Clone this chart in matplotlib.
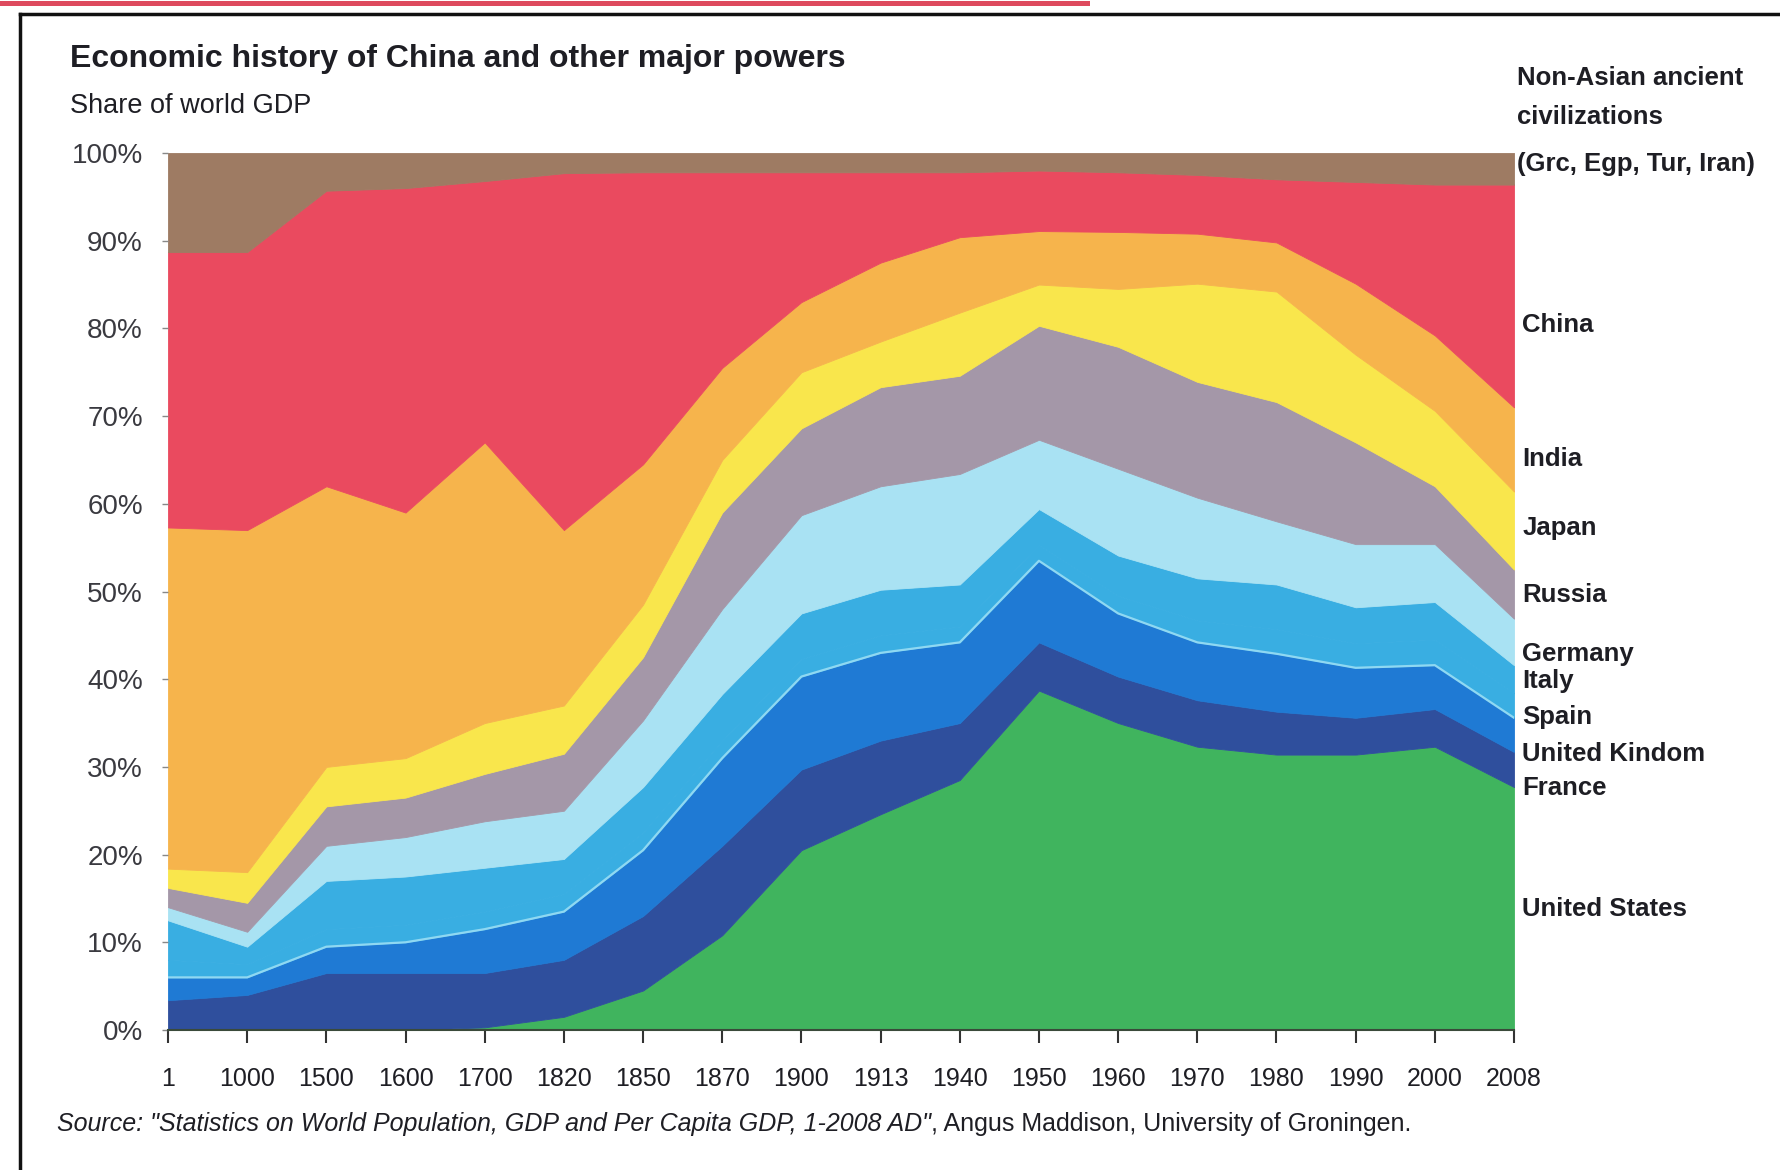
import numpy as np
import matplotlib
matplotlib.use("Agg")
import matplotlib.pyplot as plt
from matplotlib import font_manager as fm
from matplotlib.patches import Rectangle
from matplotlib.lines import Line2D
import matplotlib.transforms as mtransforms

# ---------------- data (share of world GDP, %) ----------------
years = ['1', '1000', '1500', '1600', '1700', '1820', '1850', '1870', '1900',
         '1913', '1940', '1950', '1960', '1970', '1980', '1990', '2000', '2008']

united_states = [0.0, 0.0, 0.0, 0.0, 0.3, 1.5, 4.5, 10.8, 20.5, 24.6, 28.5, 38.7, 35.0, 32.3, 31.4, 31.4, 32.3, 27.7]
france        = [3.4, 4.0, 6.5, 6.5, 6.2, 6.5, 8.5, 10.2, 9.2, 8.4, 6.5, 5.5, 5.3, 5.3, 4.9, 4.2, 4.3, 4.0]
united_kingdom = [2.6, 2.0, 3.0, 3.5, 5.0, 5.5, 7.5, 10.0, 10.6, 10.0, 9.2, 9.3, 7.2, 6.6, 6.6, 5.7, 5.0, 3.9]
spain         = [2.0, 1.5, 2.0, 2.0, 2.0, 2.0, 2.0, 2.0, 2.0, 2.0, 1.8, 1.8, 2.0, 2.5, 2.8, 2.8, 2.9, 2.8]
italy         = [4.5, 2.0, 5.5, 5.5, 5.0, 4.0, 5.2, 5.3, 5.2, 5.2, 4.8, 4.1, 4.6, 4.8, 5.1, 4.1, 4.3, 3.2]
germany       = [1.5, 1.7, 4.0, 4.5, 5.3, 5.5, 7.6, 9.7, 11.2, 11.8, 12.6, 7.9, 9.9, 9.2, 7.2, 7.2, 6.6, 5.3]
russia        = [2.2, 3.3, 4.5, 4.5, 5.4, 6.5, 7.2, 11.0, 9.9, 11.3, 11.2, 13.0, 13.9, 13.2, 13.6, 11.6, 6.6, 5.6]
japan         = [2.2, 3.5, 4.5, 4.5, 5.8, 5.5, 6.0, 6.0, 6.4, 5.2, 7.2, 4.7, 6.6, 11.2, 12.6, 10.0, 8.6, 8.9]
india         = [38.9, 39.0, 32.0, 28.0, 32.0, 20.0, 16.0, 10.5, 8.0, 9.0, 8.6, 6.1, 6.5, 5.7, 5.6, 8.1, 8.6, 9.6]
china         = [31.4, 31.7, 33.7, 37.0, 29.8, 40.7, 33.3, 22.3, 14.8, 10.3, 7.4, 6.9, 6.8, 6.7, 7.2, 11.6, 17.2, 25.4]
non_asian     = [11.3, 11.3, 4.3, 4.0, 3.2, 2.3, 2.2, 2.2, 2.2, 2.2, 2.2, 2.0, 2.2, 2.5, 3.0, 3.3, 3.6, 3.6]

series_names = ['United States', 'France', 'United Kindom', 'Spain', 'Italy', 'Germany',
                'Russia', 'Japan', 'India', 'China']
series = [united_states, france, united_kingdom, spain, italy, germany,
          russia, japan, india, china, non_asian]
colors = ['#40b45e', '#2f4f9d', '#1f7ad4', '#39aee2', '#39aee2', '#a9e2f3',
          '#a497a8', '#f9e64c', '#f6b44c', '#ea4a5f', '#9e7b63']
non_asian_lines = ['Non-Asian ancient', 'civilizations', '(Grc, Egp, Tur, Iran)']

y_ticks = [0, 10, 20, 30, 40, 50, 60, 70, 80, 90, 100]
y_tick_labels = [f'{v}%' for v in y_ticks]

# ---------------- fonts ----------------
names = {f.name for f in fm.fontManager.ttflist}
if 'Liberation Sans Narrow' in names:
    FAM = ['Liberation Sans Narrow', 'DejaVu Sans']
    SCALE = 1.15
else:
    FAM = ['Liberation Sans', 'DejaVu Sans']
    SCALE = 1.0
plt.rcParams['font.family'] = FAM

TXT = '#1e1e24'

# ---------------- figure ----------------
W, H = 1781, 1170
fig = plt.figure(figsize=(W / 100, H / 100), dpi=100)
fig.patch.set_facecolor('white')

left, right = 168 / W, 1514 / W
bottom, top = (H - 1030) / H, (H - 153) / H
ax = fig.add_axes([left, bottom, right - left, top - bottom])

x = np.arange(len(years))
polys = ax.stackplot(x, *series, colors=colors)
for p, c in zip(polys, colors):
    p.set_edgecolor(c)
    p.set_linewidth(0.6)

# thin light separator on top of the UK band
cum = np.cumsum(np.array(series), axis=0)
ax.plot(x, cum[2], color='#8fd8f2', lw=1.6)

ax.set_xlim(0, len(years) - 1)
ax.set_ylim(0, 100)

ax.set_xticks(x)
ax.set_xticklabels(years, fontsize=18 * SCALE, color=TXT)
ax.set_yticks(y_ticks)
ax.set_yticklabels(y_tick_labels, fontsize=20 * SCALE, color='#3a3a40')

ax.tick_params(axis='x', direction='out', length=9, width=1.5, color='#333333', pad=18)
ax.tick_params(axis='y', direction='out', length=4, width=1.0, color='#888888', pad=14)

for s in ['top', 'right', 'left']:
    ax.spines[s].set_visible(False)
ax.spines['bottom'].set_color('#3a4a3a')
ax.spines['bottom'].set_linewidth(1.5)

# right-hand labels
label_y = [13.8, 27.6, 31.5, 35.7, 39.8, 42.9, 49.6, 57.2, 65.1, 80.4]
trans = mtransforms.blended_transform_factory(ax.transAxes, ax.transData)
for name, yy in zip(series_names, label_y):
    ax.text(1.006, yy, name, transform=trans, ha='left', va='center',
            fontsize=18.5 * SCALE, fontweight='bold', color=TXT, clip_on=False)
for line, yy in zip(non_asian_lines, [108.5, 104.1, 98.8]):
    ax.text(1.002, yy, line, transform=trans, ha='left', va='center',
            fontsize=18.5 * SCALE, fontweight='bold', color=TXT, clip_on=False)

# titles
fig.text(70 / W, 1 - 59 / H, 'Economic history of China and other major powers',
         fontsize=23 * SCALE, fontweight='bold', color=TXT, ha='left', va='center')
fig.text(70 / W, 1 - 106 / H, 'Share of world GDP',
         fontsize=19.5 * SCALE, color=TXT, ha='left', va='center')

# source
src_y = 1 - 1124 / H
t1 = fig.text(57 / W, src_y,
              'Source: "Statistics on World Population, GDP and Per Capita GDP, 1-2008 AD"',
              fontsize=18 * SCALE, style='italic', color=TXT, ha='left', va='center')
fig.canvas.draw()
bb = t1.get_window_extent()
fig.text(bb.x1 / W, src_y, ', Angus Maddison, University of Groningen.',
         fontsize=18 * SCALE, color=TXT, ha='left', va='center')

# frame and top red strip of the scanned page
fig.add_artist(Line2D([20 / W, 20 / W], [0, 1 - 14 / H], transform=fig.transFigure,
                      color='#111111', lw=2.5))
fig.add_artist(Line2D([20 / W, 1], [1 - 14 / H, 1 - 14 / H], transform=fig.transFigure,
                      color='#111111', lw=2.5))
fig.add_artist(Rectangle((0, 1 - 6 / H), 1090 / W, 5 / H, transform=fig.transFigure,
                         facecolor='#de4a5e', edgecolor='none'))

fig.savefig('out.png', dpi=100, facecolor='white')
